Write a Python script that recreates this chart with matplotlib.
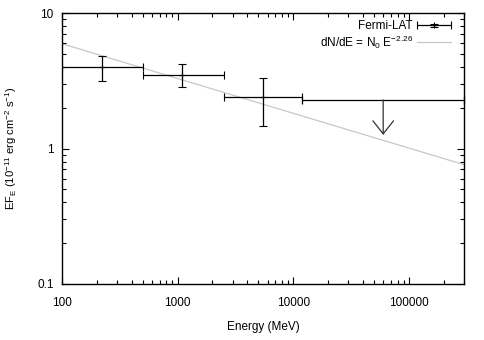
import matplotlib
matplotlib.use("Agg")
import matplotlib.pyplot as plt
from matplotlib.legend_handler import HandlerErrorbar
import numpy as np

plt.rcParams['font.family'] = ['Liberation Sans', 'DejaVu Sans']
plt.rcParams['mathtext.fontset'] = 'custom'
plt.rcParams['mathtext.rm'] = 'Liberation Sans'
plt.rcParams['mathtext.it'] = 'Liberation Sans'
plt.rcParams['font.size'] = 8.5

# Fermi-LAT data points
energy = [224, 1100, 5440]
energy_lo = [100, 500, 2500]
energy_hi = [500, 2500, 12000]
flux = [4.02, 3.49, 2.39]
flux_lo = [3.15, 2.83, 1.47]
flux_hi = [4.84, 4.20, 3.30]

# Upper limit
ul_energy = 60000
ul_energy_lo = 12000
ul_energy_hi = 300000
ul_flux = 2.28
ul_arrow_tip = 1.26

# Power-law model line (endpoints)
model_energy = [100, 300000]
model_flux = [5.93, 0.76]

xticks = [100, 1000, 10000, 100000]
xticklabels = ['100', '1000', '10000', '100000']
yticks = [0.1, 1, 10]
yticklabels = ['0.1', '1', '10']

fig = plt.figure(figsize=(4.85, 3.4), dpi=100)
ax = fig.add_axes([62/485, 1 - 284/340, (464-62)/485, (284-13)/340])

ax.plot(model_energy, model_flux, color='#c8c8c8', lw=0.9,
        label=r'dN/dE = N$_0$ E$^{-2.26}$', zorder=1)

e = np.array(energy); f = np.array(flux)
xerr = [e - np.array(energy_lo), np.array(energy_hi) - e]
yerr = [f - np.array(flux_lo), np.array(flux_hi) - f]
eb = ax.errorbar(energy, flux, xerr=xerr, yerr=yerr, fmt='+', color='black',
                 ms=4, mew=0.8, elinewidth=0.9, capsize=3, capthick=0.9,
                 label='Fermi-LAT', zorder=3)

ax.errorbar([ul_energy], [ul_flux],
            xerr=[[ul_energy - ul_energy_lo], [ul_energy_hi - ul_energy]],
            fmt='none', color='black', elinewidth=0.9, capsize=3, capthick=0.9,
            zorder=3, clip_on=False)
ax.annotate('', xy=(ul_energy, ul_arrow_tip), xytext=(ul_energy, ul_flux),
            arrowprops=dict(arrowstyle='->,head_length=9.4,head_width=7.4',
                            mutation_scale=1, color='#333333', lw=0.9,
                            shrinkA=0, shrinkB=0), zorder=3)

ax.set_xscale('log')
ax.set_yscale('log')
ax.set_xlim(100, 300000)
ax.set_ylim(0.1, 10)
ax.set_xticks(xticks)
ax.set_xticklabels(xticklabels)
ax.set_yticks(yticks)
ax.set_yticklabels(yticklabels)
ax.tick_params(which='both', direction='in', top=True, right=True)
ax.tick_params(which='major', length=5, width=0.8)
ax.tick_params(axis='x', which='major', pad=9)
ax.tick_params(axis='y', which='major', pad=6)
ax.tick_params(which='minor', length=3, width=0.8)
for s in ax.spines.values():
    s.set_linewidth(1.0)

ax.set_xlabel('Energy (MeV)', labelpad=9)
fig.text(11/485, 1 - 148.5/340,
         r'EF$_\mathrm{E}$ (10$^{-11}$ erg cm$^{-2}$ s$^{-1}$)',
         rotation=90, ha='center', va='center', fontsize=8.1)

handles, labels = ax.get_legend_handles_labels()
order = [labels.index('Fermi-LAT'), labels.index(r'dN/dE = N$_0$ E$^{-2.26}$')]
ax.legend([handles[i] for i in order], [labels[i] for i in order],
          loc='upper right', bbox_to_anchor=(0.979, 0.990), borderaxespad=0,
          frameon=False, markerfirst=False,
          handlelength=2.88, handletextpad=0.35, labelspacing=0.08,
          handler_map={type(eb): HandlerErrorbar(xerr_size=1.44, yerr_size=0.15)})

fig.savefig('out.png', dpi=100)
